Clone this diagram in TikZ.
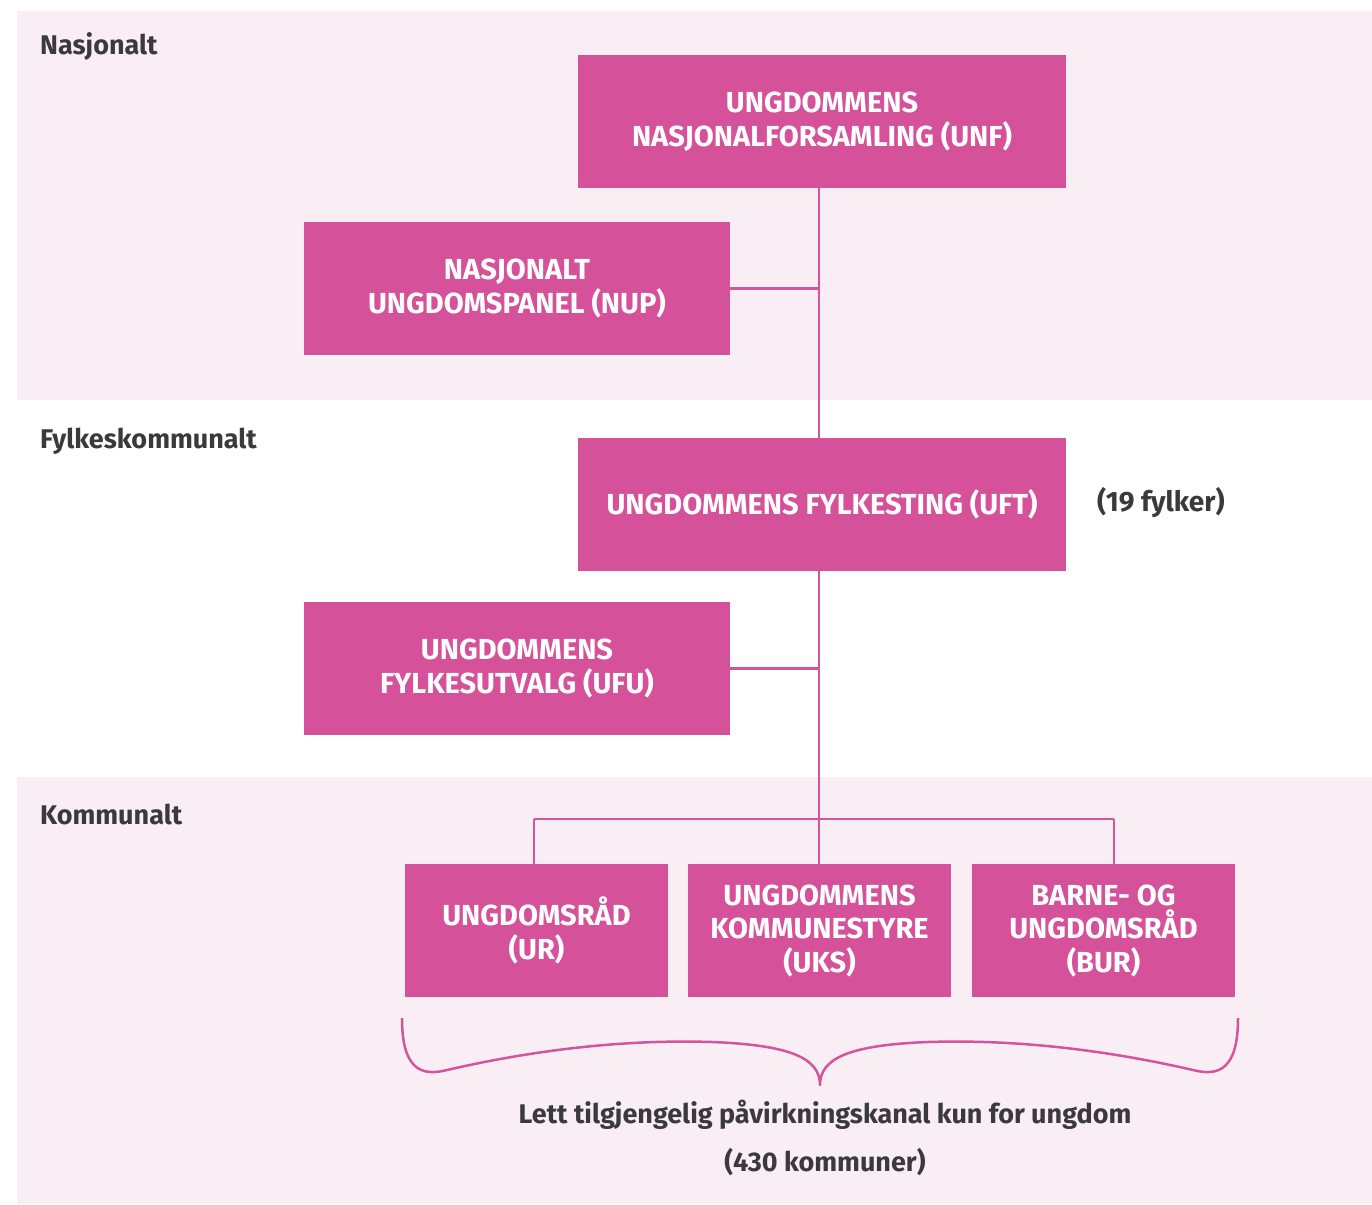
\documentclass[tikz,border=0pt]{standalone}
\usepackage{fontspec}
\setmainfont{Fira Sans}
\definecolor{boxpink}{HTML}{D55199}
\definecolor{linepink}{HTML}{D4559B}
\definecolor{band}{HTML}{FAEEF5}
\definecolor{txtgrey}{HTML}{3A3A3C}
\tikzset{
  orgbox/.style={fill=boxpink, draw=none, text=white, align=center,
    font=\fontsize{29}{33.5}\selectfont\bfseries, inner sep=0pt},
  wide/.style={minimum width=488pt, minimum height=133pt},
  mid/.style={minimum width=426pt, minimum height=133pt},
  small/.style={minimum width=263pt, minimum height=133pt},
  levellabel/.style={text=txtgrey, anchor=base west, inner sep=0pt,
    font=\fontsize{27}{30}\selectfont\bfseries},
  note/.style={text=txtgrey, anchor=base, inner sep=0pt,
    font=\fontsize{27}{30}\selectfont\bfseries},
  conn/.style={draw=linepink, line width=2.5pt},
}
\begin{document}
\begin{tikzpicture}[x=1pt,y=-1pt]
\useasboundingbox (0,0) rectangle (1372,1204);
\fill[white] (0,0) rectangle (1372,1204);
% bands
\fill[band] (17,11) rectangle (1372,400);
\fill[band] (17,777) rectangle (1372,1204);
% level labels
\node[levellabel] (lnat) at (40,55) {Nasjonalt};
\node[levellabel] (lfyl) at (40,448) {Fylkeskommunalt};
\node[levellabel] (lkom) at (40,824) {Kommunalt};
% boxes
\node[orgbox, wide] (unf) at (822,121.5) {UNGDOMMENS\\NASJONALFORSAMLING (UNF)};
\node[orgbox, mid] (nup) at (517,288.5) {NASJONALT\\UNGDOMSPANEL (NUP)};
\node[orgbox, wide] (uft) at (822,504.5) {UNGDOMMENS FYLKESTING (UFT)};
\node[orgbox, mid] (ufu) at (517,668.5) {UNGDOMMENS\\FYLKESUTVALG (UFU)};
\node[orgbox, small] (ur) at (536.5,930.5) {UNGDOMSRÅD\\(UR)};
\node[orgbox, small] (uks) at (819.5,930.5) {UNGDOMMENS\\KOMMUNESTYRE\\(UKS)};
\node[orgbox, small] (bur) at (1103.5,930.5) {BARNE- OG\\UNGDOMSRÅD\\(BUR)};
\node[note, anchor=west, font=\fontsize{28}{30}\selectfont\bfseries] (fylker) at (1097,503) {(19 fylker)};
% connectors
\coordinate (sp) at (819,0);
\coordinate (bl) at (534,819);
\coordinate (bm) at (819,819);
\coordinate (br) at (1114,819);
\draw[conn] (unf.south -| sp) -- (uft.north -| sp);
\draw[conn] (nup.east) -- (nup.east -| sp);
\draw[conn] (uft.south -| sp) -- (bm);
\draw[conn] (ufu.east) -- (ufu.east -| sp);
\draw[conn] (bl) -- (br);
\draw[conn] (bl) -- (bl |- ur.north);
\draw[conn] (bm) -- (bm |- uks.north);
\draw[conn] (br) -- (br |- bur.north);
% brace
\coordinate (bL) at (402,1018);
\coordinate (bR) at (1238,1018);
\coordinate (bT) at (820,1085);
\draw[draw=linepink, line width=2.5pt, line join=round]
  (bL) .. controls (402,1068) and (420,1077) .. (447,1070)
  .. controls (560,1044) and (650,1040) .. (712,1042)
  .. controls (790,1045) and (820,1058) .. (bT)
  .. controls (820,1058) and (850,1045) .. (928,1042)
  .. controls (990,1040) and (1080,1044) .. (1193,1070)
  .. controls (1220,1077) and (1238,1068) .. (bR);
% bottom text
\node[note] (t1) at (825,1123) {Lett tilgjengelig påvirkningskanal kun for ungdom};
\node[note] (t2) at (825,1171) {(430 kommuner)};
\end{tikzpicture}
\end{document}
